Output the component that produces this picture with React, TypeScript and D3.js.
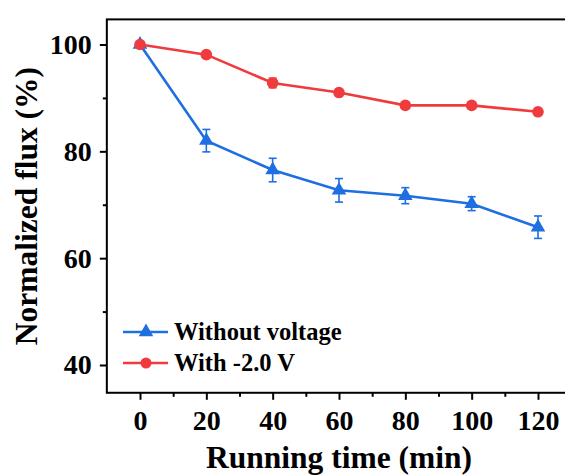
import React, { useEffect, useRef } from "react";
import * as d3 from "d3";

// Running time (min)
const times = [0, 20, 40, 60, 80, 100, 120];
// Normalized flux (%) without applied voltage, with standard deviations
const withoutVoltage = [100, 82.0, 76.5, 72.7, 71.7, 70.2, 65.8];
const withoutVoltageErr = [0, 2.1, 2.2, 2.2, 1.5, 1.3, 2.1];
// Normalized flux (%) under -2.0 V, with standard deviations
const withVoltage = [100, 98.1, 92.8, 91.0, 88.6, 88.6, 87.4];
const withVoltageErr = [0, 0.4, 0.9, 0.3, 0.3, 0.3, 0.3];

const xMajorTicks = [0, 20, 40, 60, 80, 100, 120];
const xMinorTicks = [10, 30, 50, 70, 90, 110];
const yMajorTicks = [40, 60, 80, 100];
const yMinorTicks = [50, 70, 90];

const seriesNames = ["Without voltage", "With -2.0 V"];

const W = 565;
const H = 475;
const BLUE = "#1f6fe0";
const RED = "#ef3b3d";
const FONT = "'Liberation Serif', 'Times New Roman', serif";

export default function App() {
  const ref = useRef<SVGSVGElement | null>(null);

  useEffect(() => {
    const svg = d3.select(ref.current);
    svg.selectAll("*").remove();

    const x = d3.scaleLinear().domain([0, 120]).range([140, 538]);
    const y = d3.scaleLinear().domain([40, 100]).range([365, 44.5]);
    const xMin = -10, xMax = 130, yMin = 34.8, yMax = 104.7;

    const g = svg.append("g");

    // plot frame
    g.append("rect")
      .attr("x", x(xMin))
      .attr("y", y(yMax))
      .attr("width", x(xMax) - x(xMin))
      .attr("height", y(yMin) - y(yMax))
      .attr("fill", "none")
      .attr("stroke", "#000")
      .attr("stroke-width", 2);

    // bottom axis
    const xAxis = g.append("g").attr("transform", `translate(0,${y(yMin)})`);
    xAxis.call(
      d3.axisBottom(x).tickValues(xMajorTicks).tickSize(7).tickSizeOuter(0).tickPadding(10)
    );
    const xMinor = g.append("g").attr("transform", `translate(0,${y(yMin)})`);
    xMinor.call(
      d3.axisBottom(x).tickValues(xMinorTicks).tickSize(4).tickSizeOuter(0).tickFormat(() => "")
    );

    // left axis
    const yAxis = g.append("g").attr("transform", `translate(${x(xMin)},0)`);
    yAxis.call(
      d3.axisLeft(y).tickValues(yMajorTicks).tickSize(7).tickSizeOuter(0).tickPadding(8)
    );
    const yMinor = g.append("g").attr("transform", `translate(${x(xMin)},0)`);
    yMinor.call(
      d3.axisLeft(y).tickValues(yMinorTicks).tickSize(4).tickSizeOuter(0).tickFormat(() => "")
    );

    [xAxis, xMinor, yAxis, yMinor].forEach((a) => {
      a.select(".domain").remove();
      a.selectAll(".tick line").attr("stroke", "#000").attr("stroke-width", 2);
      a.selectAll(".tick text")
        .attr("fill", "#000")
        .style("font-family", FONT)
        .style("font-weight", "bold")
        .style("font-size", "28px");
    });

    // axis titles
    g.append("text")
      .attr("x", (x(xMin) + x(xMax)) / 2)
      .attr("y", 468)
      .attr("text-anchor", "middle")
      .style("font-family", FONT)
      .style("font-weight", "bold")
      .style("font-size", "31.5px")
      .text("Running time (min)");

    g.append("text")
      .attr("transform", `translate(37,${(y(yMin) + y(yMax)) / 2 + 0}) rotate(-90)`)
      .attr("text-anchor", "middle")
      .style("font-family", FONT)
      .style("font-weight", "bold")
      .style("font-size", "31.5px")
      .text("Normalized flux (%)");

    const triangle = d3.symbol().type(d3.symbolTriangle).size(92);

    const drawSeries = (
      vals: number[],
      errs: number[],
      color: string,
      marker: "tri" | "circ"
    ) => {
      const sg = g.append("g");
      // error bars
      times.forEach((t, i) => {
        if (errs[i] <= 0) return;
        const cx = x(t);
        const y1 = y(vals[i] + errs[i]);
        const y2 = y(vals[i] - errs[i]);
        sg.append("line").attr("x1", cx).attr("x2", cx).attr("y1", y1).attr("y2", y2)
          .attr("stroke", color).attr("stroke-width", 1.6);
        [y1, y2].forEach((yy) => {
          sg.append("line").attr("x1", cx - 4).attr("x2", cx + 4).attr("y1", yy).attr("y2", yy)
            .attr("stroke", color).attr("stroke-width", 1.6);
        });
      });
      const line = d3.line<number>().x((_, i) => x(times[i])).y((d) => y(d));
      sg.append("path").attr("d", line(vals)).attr("fill", "none")
        .attr("stroke", color).attr("stroke-width", 2.6);
      times.forEach((t, i) => {
        if (marker === "circ") {
          sg.append("circle").attr("cx", x(t)).attr("cy", y(vals[i])).attr("r", 5.8).attr("fill", color);
        } else {
          sg.append("path").attr("d", triangle()).attr("transform", `translate(${x(t)},${y(vals[i])})`)
            .attr("fill", color);
        }
      });
    };

    drawSeries(withoutVoltage, withoutVoltageErr, BLUE, "tri");
    drawSeries(withVoltage, withVoltageErr, RED, "circ");

    // legend
    const legendItems = [
      { name: seriesNames[0], color: BLUE, marker: "tri", yy: 332 },
      { name: seriesNames[1], color: RED, marker: "circ", yy: 363 },
    ];
    legendItems.forEach((it) => {
      const lg = g.append("g");
      lg.append("line").attr("x1", 123).attr("x2", 168).attr("y1", it.yy).attr("y2", it.yy)
        .attr("stroke", it.color).attr("stroke-width", 2.6);
      if (it.marker === "circ") {
        lg.append("circle").attr("cx", 146).attr("cy", it.yy).attr("r", 5.5).attr("fill", it.color);
      } else {
        lg.append("path").attr("d", triangle()).attr("transform", `translate(146,${it.yy})`).attr("fill", it.color);
      }
      lg.append("text").attr("x", 174).attr("y", it.yy + 8)
        .style("font-family", FONT).style("font-weight", "bold").style("font-size", "24.5px")
        .text(it.name);
    });
  }, []);

  return (
    <div style={{ position: "absolute", left: 0, top: 0, width: W, height: H, background: "#fff" }}>
      <svg ref={ref} width={W} height={H} style={{ display: "block" }} />
    </div>
  );
}
